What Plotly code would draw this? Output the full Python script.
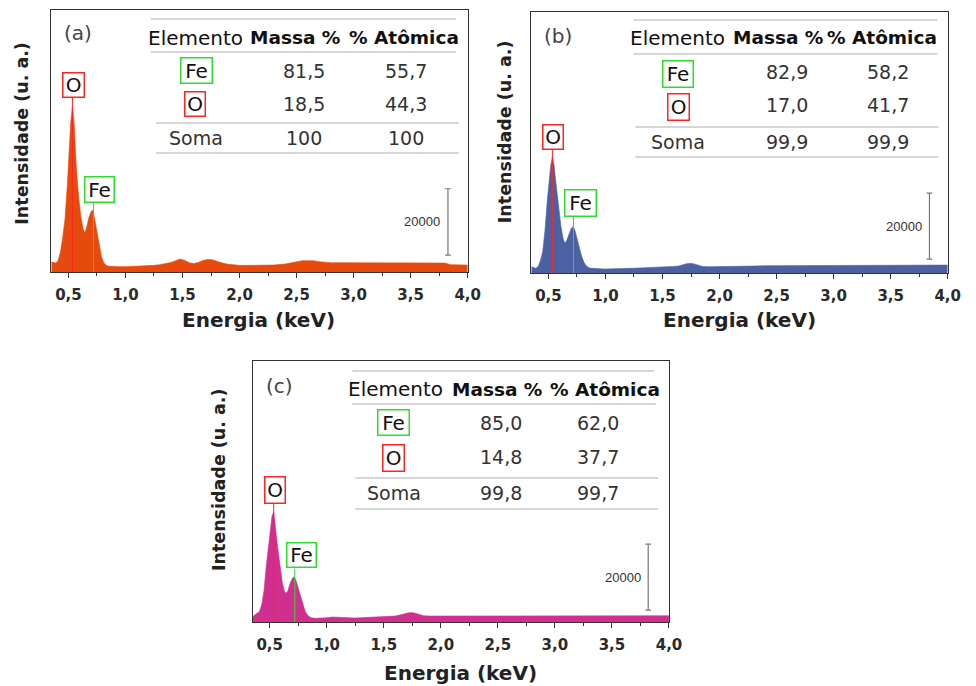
import plotly.graph_objects as go

# ---------------- DATA ----------------
ENERGY = [0.35, 0.37, 0.39, 0.41, 0.43, 0.45, 0.47, 0.49, 0.50, 0.51, 0.52, 0.535, 0.55, 0.56,
          0.57, 0.59, 0.61, 0.63, 0.645, 0.66, 0.68, 0.70, 0.715, 0.73, 0.75, 0.77, 0.79, 0.81,
          0.83, 0.86, 0.90, 0.95, 1.00, 1.05, 1.10, 1.15, 1.20, 1.25, 1.30, 1.35, 1.40, 1.44,
          1.48, 1.52, 1.56, 1.60, 1.64, 1.68, 1.72, 1.76, 1.80, 1.85, 1.90, 1.95, 2.00, 2.10,
          2.20, 2.30, 2.40, 2.50, 2.55, 2.60, 2.65, 2.70, 2.75, 2.80, 2.90, 3.00, 3.10, 3.20,
          3.30, 3.40, 3.50, 3.60, 3.70, 3.80, 3.85, 3.90, 3.95, 4.00]

COUNTS_A = [3000, 2800, 2700, 3500, 6000, 10500, 16000, 26000, 33000, 39000, 45000, 50000, 45000, 38000,
            31000, 22500, 16500, 12800, 11800, 13500, 16500, 18300, 18600, 16000, 11800, 7800, 4600, 2800,
            2000, 1700, 1600, 1600, 1600, 1650, 1700, 1900, 1900, 2000, 2200, 2500, 2900, 3400,
            3900, 3500, 2800, 2600, 2900, 3500, 3800, 3700, 3200, 2700, 2300, 2100, 2000, 2000,
            2000, 2100, 2400, 3000, 3400, 3400, 3400, 3100, 2900, 2800, 2800, 2800, 2700, 2800,
            2800, 2700, 2800, 2800, 2700, 2700, 2200, 2100, 2100, 2100]

COUNTS_B = [1900, 1600, 1400, 2000, 3800, 6500, 13000, 22000, 26000, 29500, 32500, 35200, 32500, 29000,
            26000, 19500, 14000, 10200, 9000, 9800, 12000, 13500, 14000, 13200, 10500, 7600, 5200, 3300,
            2200, 1500, 1300, 1250, 1200, 1200, 1300, 1300, 1400, 1450, 1500, 1600, 1700, 1800,
            1900, 1900, 1900, 2000, 2100, 2500, 2900, 2900, 2500, 2000, 1900, 1900, 1900, 1900,
            2000, 2100, 2200, 2200, 2300, 2300, 2300, 2300, 2300, 2300, 2300, 2400, 2400, 2400,
            2400, 2400, 2400, 2400, 2400, 2400, 2400, 2400, 2400, 2400]

COUNTS_C = [1600, 2200, 2600, 3200, 5200, 9500, 17000, 23500, 26500, 29500, 32000, 33400, 29500, 25500,
            22500, 16500, 12000, 9200, 8700, 9500, 11800, 13300, 13700, 12600, 10200, 7900, 5400, 3300,
            2100, 1300, 1100, 1100, 1300, 1500, 1400, 1200, 1150, 1200, 1300, 1400, 1500, 1600,
            1600, 1600, 1700, 1800, 2100, 2500, 2800, 2800, 2400, 1900, 1800, 1800, 1800, 1800,
            1850, 1900, 1900, 1900, 1900, 1900, 1900, 1900, 1900, 1900, 1900, 1900, 1900, 1900,
            1900, 1900, 1900, 1900, 1900, 1900, 1900, 1900, 1900, 1900]

PANEL_LABELS = ["(a)", "(b)", "(c)"]
O_LINE_KEV = 0.535
FE_LINE_KEV = 0.72
SCALE_COUNTS = 20000

ELEMENTS = ["Fe", "O"]
MASSA_A = [81.5, 18.5]
ATOMICA_A = [55.7, 44.3]
SOMA_A = [100, 100]
MASSA_B = [82.9, 17.0]
ATOMICA_B = [58.2, 41.7]
SOMA_B = [99.9, 99.9]
MASSA_C = [85.0, 14.8]
ATOMICA_C = [62.0, 37.7]
SOMA_C = [99.8, 99.7]

HEADER = ["Elemento", "Massa %", "% Atômica"]
SOMA_LABEL = "Soma"
X_TITLE = "Energia (keV)"
Y_TITLE = "Intensidade (u. a.)"
SCALE_LABEL = "20000"

COLORS = ["#E64A0C", "#4B61A1", "#D12F8F"]

# ---------------- LAYOUT CONSTANTS ----------------
W, H = 976, 686
XR = [0.35, 4.0]
YR = [0, 79000]
FONT = "DejaVu Sans"
RED = "#FF2424"
GREEN = "#2EDC2E"


def fx(p):
    return p / W


def fy(p):
    return 1 - p / H


def num(v):
    if float(v).is_integer() and v >= 100:
        return str(int(v))
    return f"{v:.1f}".replace(".", ",")


panels = [
    dict(dom=(52, 474, 10, 272), counts=COUNTS_A, massa=MASSA_A, atom=ATOMICA_A, soma=SOMA_A,
         ytitle=(22, 133), xtitle=(262, 320), letter=(79, 33),
         obox=(0.545, 56400, 23, 26), febox=(0.769, 24900, 31, 27),
         bar=(3.827, 5100),
         tlines=[(19, 153, 462), (52, 153, 462), (123, 158, 465), (153, 158, 465)],
         thead_y=38, thead_x=[198, 299, 409.5],
         rows_y=[70.5, 104, 137.5], colx=[199, 308.5, 411.5],
         tbox=[(199.5, 70.5, 33, 27), (198, 104, 22, 26)]),
    dict(dom=(538.5, 960.5, 12, 273), counts=COUNTS_B, massa=MASSA_B, atom=ATOMICA_B, soma=SOMA_B,
         ytitle=(512, 132), xtitle=(749, 320), letter=(566, 36),
         obox=(0.536, 41160, 22, 26), febox=(0.782, 21190, 33, 28),
         bar=(3.84, 4200),
         tlines=[(20, 642, 950), (54, 642, 950), (127, 644, 951), (157, 644, 951)],
         thead_y=38, thead_x=[686.5, 788, 893.5],
         rows_y=[72, 105, 142], colx=[687.5, 797.5, 899.5],
         tbox=[(687.5, 74, 32, 28), (688, 107, 23, 28)]),
    dict(dom=(256, 678, 361, 622), counts=COUNTS_C, massa=MASSA_C, atom=ATOMICA_C, soma=SOMA_C,
         ytitle=(222, 480), xtitle=(467, 673), letter=(283, 386),
         obox=(0.547, 40100, 22, 28), febox=(0.776, 20130, 31, 26),
         bar=(3.818, 3600),
         tlines=[(371, 357, 663), (404, 357, 665), (478, 360, 667), (509, 360, 667)],
         thead_y=389, thead_x=[400.5, 503.5, 613.5],
         rows_y=[423, 457, 493], colx=[399, 508, 606.5],
         tbox=[(399, 422.5, 33, 27), (399, 457.5, 23, 28)]),
]

fig = go.Figure()
annotations = []
shapes = []
layout_axes = {}

for i, p in enumerate(panels):
    k = "" if i == 0 else str(i + 1)
    xa, ya = "x" + k, "y" + k
    x0, x1, y0, y1 = p["dom"]
    cpp = (YR[1] - YR[0]) / (y1 - y0)  # counts per pixel

    fig.add_trace(go.Scatter(x=ENERGY, y=p["counts"], mode="lines", fill="tozeroy",
                             line=dict(color=COLORS[i], width=0.6), fillcolor=COLORS[i],
                             xaxis=xa, yaxis=ya, showlegend=False, hoverinfo="skip"))

    layout_axes["xaxis" + k] = dict(
        domain=[fx(x0), fx(x1)], range=XR, anchor=ya, showgrid=False, zeroline=False,
        showline=True, mirror=True, linecolor="#333", linewidth=1,
        ticks="outside", ticklen=5, tickcolor="#333", tickwidth=1, tick0=0.5, dtick=0.5,
        tickformat=".1f", ticklabelstandoff=4,
        tickfont=dict(family=FONT, size=15, color="#2a2a2a", weight="bold"),
        minor=dict(ticks="outside", ticklen=3, tickcolor="#333", dtick=0.25, tick0=0.5, showgrid=False))
    layout_axes["yaxis" + k] = dict(
        domain=[fy(y1), fy(y0)], range=YR, anchor=xa, showgrid=False, zeroline=False,
        showline=True, mirror=True, linecolor="#333", linewidth=1, ticks="",
        showticklabels=False)

    # axis titles
    annotations.append(dict(x=fx(p["xtitle"][0]), y=fy(p["xtitle"][1]), xref="paper", yref="paper",
                            text=X_TITLE, showarrow=False, xanchor="center", yanchor="middle",
                            font=dict(family=FONT, size=20, color="#222", weight="bold")))
    annotations.append(dict(x=fx(p["ytitle"][0]), y=fy(p["ytitle"][1]), xref="paper", yref="paper",
                            text=Y_TITLE, showarrow=False, textangle=-90, xanchor="center",
                            yanchor="middle",
                            font=dict(family=FONT, size=17.5, color="#222", weight="bold")))
    # panel letter
    annotations.append(dict(x=fx(p["letter"][0]), y=fy(p["letter"][1]), xref="paper", yref="paper",
                            text=PANEL_LABELS[i], showarrow=False, xanchor="center", yanchor="middle",
                            font=dict(family=FONT, size=20, color="#444")))

    # peak marker lines and labels
    for (bx, by, bw, bh), elem_x, col, txt in [(p["obox"], O_LINE_KEV, RED, "O"),
                                              (p["febox"], FE_LINE_KEV, GREEN, "Fe")]:
        top = by - (bh / 2) * cpp
        shapes.append(dict(type="line", xref=xa, yref=ya, x0=elem_x, x1=elem_x, y0=0, y1=top,
                           line=dict(color=col, width=1), layer="above"))
        annotations.append(dict(x=bx, y=by, xref=xa, yref=ya, text=txt, showarrow=False,
                                xanchor="center", yanchor="middle", width=bw - 3, height=bh - 3,
                                borderpad=0, bordercolor=col, borderwidth=1.5,
                                font=dict(family=FONT, size=20, color="#111")))

    # scale bar
    bx, by0 = p["bar"]
    cap = 0.025
    shapes.append(dict(type="line", xref=xa, yref=ya, x0=bx, x1=bx, y0=by0, y1=by0 + SCALE_COUNTS,
                       line=dict(color="#777", width=1.2)))
    for yy in (by0, by0 + SCALE_COUNTS):
        shapes.append(dict(type="line", xref=xa, yref=ya, x0=bx - cap, x1=bx + cap, y0=yy, y1=yy,
                           line=dict(color="#777", width=1.2)))
    annotations.append(dict(x=bx - 0.05, y=by0 + SCALE_COUNTS / 2, xref=xa, yref=ya,
                            text=SCALE_LABEL, showarrow=False, xanchor="right", yanchor="middle",
                            font=dict(family="Liberation Sans", size=13, color="#333")))

    # table lines
    for (ly, lx0, lx1) in p["tlines"]:
        shapes.append(dict(type="line", xref="paper", yref="paper", x0=fx(lx0), x1=fx(lx1),
                           y0=fy(ly), y1=fy(ly), line=dict(color="#D6D6D6", width=2)))
    # header
    for j, htxt in enumerate(HEADER):
        annotations.append(dict(x=fx(p["thead_x"][j]), y=fy(p["thead_y"]), xref="paper", yref="paper",
                                text=htxt, showarrow=False, xanchor="center", yanchor="middle",
                                font=dict(family=FONT, size=20 if j == 0 else 18.5, color="#111",
                                          weight="normal" if j == 0 else "bold")))
    # element rows
    for r, el in enumerate(ELEMENTS):
        cx, cy, bw, bh = p["tbox"][r]
        col = GREEN if el == "Fe" else RED
        annotations.append(dict(x=fx(cx), y=fy(cy), xref="paper", yref="paper", text=el,
                                showarrow=False, xanchor="center", yanchor="middle",
                                width=bw - 3, height=bh - 3, borderpad=0, bordercolor=col,
                                borderwidth=1.5, font=dict(family=FONT, size=20, color="#111")))
        for c, val in ((1, p["massa"][r]), (2, p["atom"][r])):
            annotations.append(dict(x=fx(p["colx"][c]), y=fy(p["rows_y"][r]), xref="paper",
                                    yref="paper", text=num(val), showarrow=False, xanchor="center",
                                    yanchor="middle", font=dict(family=FONT, size=19, color="#333")))
    # soma row
    annotations.append(dict(x=fx(p["colx"][0]), y=fy(p["rows_y"][2]), xref="paper", yref="paper",
                            text=SOMA_LABEL, showarrow=False, xanchor="center", yanchor="middle",
                            font=dict(family=FONT, size=19, color="#333")))
    for c, val in ((1, p["soma"][0]), (2, p["soma"][1])):
        annotations.append(dict(x=fx(p["colx"][c]), y=fy(p["rows_y"][2]), xref="paper", yref="paper",
                                text=num(val), showarrow=False, xanchor="center", yanchor="middle",
                                font=dict(family=FONT, size=19, color="#333")))

fig.update_layout(
    width=W, height=H, margin=dict(l=0, r=0, t=0, b=0),
    paper_bgcolor="white", plot_bgcolor="white",
    separators=",.", showlegend=False,
    annotations=annotations, shapes=shapes,
    **layout_axes,
)

fig.write_html("out.html")
